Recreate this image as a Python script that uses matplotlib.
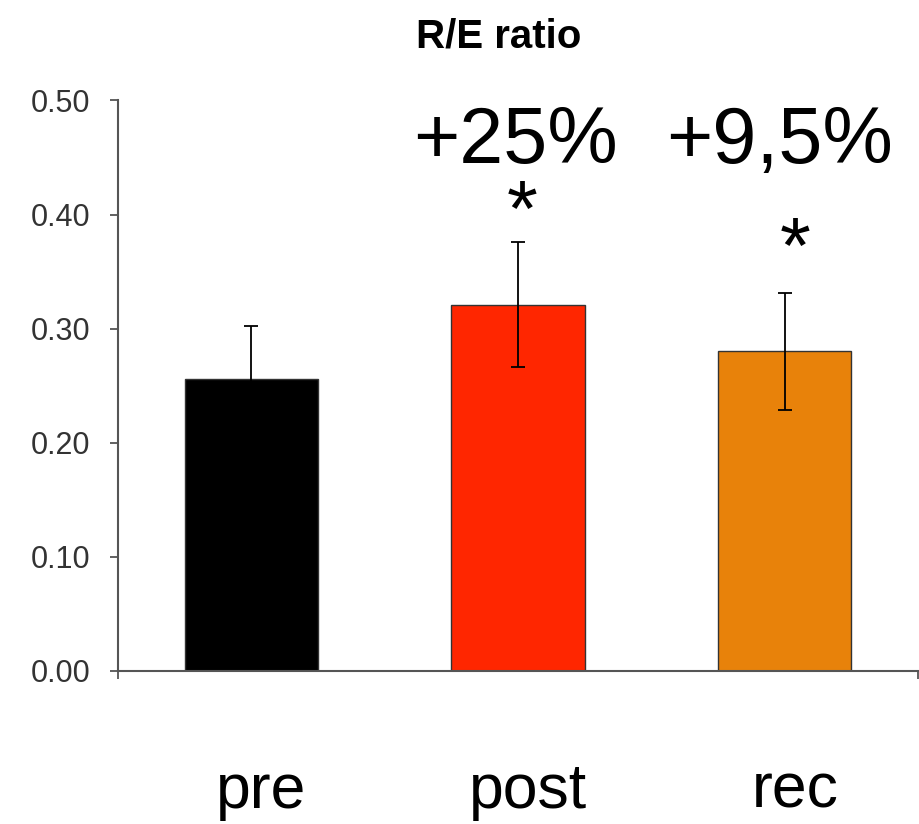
import matplotlib
matplotlib.use("Agg")
import matplotlib.pyplot as plt
from matplotlib.transforms import blended_transform_factory

plt.rcParams['font.family'] = ['Liberation Sans', 'DejaVu Sans']

# data
groups = ["pre", "post", "rec"]
ratio = [0.256, 0.321, 0.280]
ratio_err = [0.046, 0.055, 0.051]
bar_colors = ["#000000", "#ff2600", "#e8820a"]
changes = ["", "+25%", "+9,5%"]
significant = [False, True, True]
yticks = [0.0, 0.1, 0.2, 0.3, 0.4, 0.5]

fig = plt.figure(figsize=(9.19, 8.24), dpi=100)
ax = fig.add_axes([0.1284, 0.1857, 0.8705, 0.6924])

x = list(range(len(groups)))
ax.bar(x, ratio, width=0.5, color=bar_colors, edgecolor="#333333", linewidth=1.0, zorder=2)
ax.errorbar(x, ratio, yerr=ratio_err, fmt="none", ecolor="black",
            elinewidth=1.3, capsize=5, capthick=1.3, zorder=3)

ax.set_xlim(-0.5, 2.5)
ax.set_ylim(0, 0.5)
ax.set_yticks(yticks)
ax.set_yticklabels(["%.2f" % v for v in yticks])
ax.set_xticks([-0.5, 2.5])
ax.set_xticklabels([])

for side in ["top", "right"]:
    ax.spines[side].set_visible(False)
for side in ["left", "bottom"]:
    ax.spines[side].set_color("#555555")
    ax.spines[side].set_linewidth(1.5)

ax.tick_params(axis="y", direction="out", length=6, width=1.3, color="#555555",
               pad=14, labelsize=22, labelcolor="#333333")
ax.tick_params(axis="x", direction="out", length=6, width=1.3, color="#555555")

# percent changes and significance stars
change_pos = [(0.99, 0.445), (1.98, 0.445)]
star_pos = [(1.015, 0.3815), (2.04, 0.349)]
j = 0
for i, (c, s) in enumerate(zip(changes, significant)):
    if c:
        ax.text(change_pos[j][0], change_pos[j][1], c, ha="center", va="baseline",
                fontsize=57, clip_on=False)
    if s:
        ax.text(star_pos[j][0], star_pos[j][1], "*", ha="center", va="baseline",
                fontsize=57, clip_on=False)
        j += 1

# category labels under the axis
trans = blended_transform_factory(ax.transData, fig.transFigure)
for i, g in enumerate(groups):
    ax.text(i + 0.038, (824 - 808) / 824, g, transform=trans, ha="center", va="baseline",
            fontsize=45)

fig.text(499 / 919, (824 - 48) / 824, "R/E ratio", ha="center", va="baseline",
         fontsize=29, fontweight="bold")

fig.savefig("out.png", dpi=100)
